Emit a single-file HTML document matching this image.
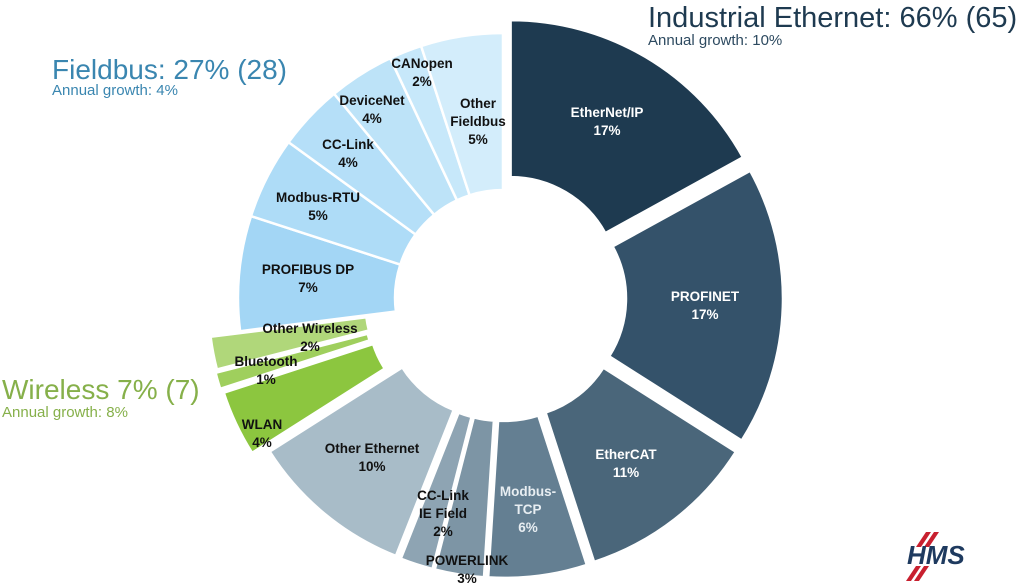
<!DOCTYPE html>
<html><head><meta charset="utf-8"><style>
body{margin:0;width:1024px;height:586px;background:#fff;overflow:hidden;position:relative;font-family:"Liberation Sans",sans-serif}
svg{position:absolute;left:0;top:0}
.l{position:absolute;transform:translate(-50%,-50%);font-weight:bold;font-size:13.5px;line-height:18px;text-align:center;white-space:nowrap;color:#111}
.w{color:#fff}
.t{position:absolute;white-space:nowrap;line-height:1}
</style></head><body>
<svg id="s" width="1024" height="586"></svg>
<div class="t" style="left:648px;top:4px;font-size:29px;color:#1e3a50">Industrial Ethernet: 66% (65)</div>
<div class="t" style="left:648px;top:33px;font-size:15px;color:#2d4a60">Annual growth: 10%</div>
<div class="t" style="left:52px;top:56px;font-size:28px;color:#3a86b0">Fieldbus: 27% (28)</div>
<div class="t" style="left:52px;top:83px;font-size:15px;color:#3a86b0">Annual growth: 4%</div>
<div class="t" style="left:2px;top:376px;font-size:28px;color:#86b04a">Wireless 7% (7)</div>
<div class="t" style="left:2px;top:405px;font-size:15px;color:#86b04a">Annual growth: 8%</div>

<div class="l w" style="left:607px;top:122px">EtherNet/IP<br>17%</div>
<div class="l w" style="left:705px;top:306px">PROFINET<br>17%</div>
<div class="l w" style="left:626px;top:464px">EtherCAT<br>11%</div>
<div class="l w" style="left:528px;top:510px;color:#e8eef2">Modbus-<br>TCP<br>6%</div>
<div class="l" style="left:443px;top:514px">CC-Link<br>IE Field<br>2%</div>
<div class="l" style="left:467px;top:570px">POWERLINK<br>3%</div>
<div class="l" style="left:372px;top:458px">Other Ethernet<br>10%</div>
<div class="l" style="left:262px;top:434px">WLAN<br>4%</div>
<div class="l" style="left:266px;top:371px">Bluetooth<br>1%</div>
<div class="l" style="left:310px;top:338px">Other Wireless<br>2%</div>
<div class="l" style="left:308px;top:279px">PROFIBUS DP<br>7%</div>
<div class="l" style="left:318px;top:207px">Modbus-RTU<br>5%</div>
<div class="l" style="left:348px;top:154px">CC-Link<br>4%</div>
<div class="l" style="left:372px;top:110px">DeviceNet<br>4%</div>
<div class="l" style="left:422px;top:73px">CANopen<br>2%</div>
<div class="l" style="left:478px;top:122px">Other<br>Fieldbus<br>5%</div>

<svg width="1024" height="586" style="pointer-events:none">
<g fill="#c8202f">
<polygon points="926,532 931,532 921,547 916,547"/><polygon points="934,532 939,532 929,547 924,547"/>
<polygon points="916,566 921,566 911,581 906,581"/><polygon points="924,566 929,566 919,581 914,581"/>
</g>
<text x="907" y="564" font-family="Liberation Sans" font-weight="bold" font-style="italic" font-size="26" fill="#1e3a5f">HMS</text>
</svg>
<script>
var cx=503,cy=298,R=265,r=108;
var segs=[
[17,"#1e3a50",15],[17,"#34526a",15],[11,"#4a667a",15],[6,"#647f92",15],[3,"#7d95a5",15],[2,"#8ea4b3",15],[10,"#a8bcc8",15],
[4,"#8cc63f",30],[1,"#9fcf5d",32],[2,"#b0d77a",30],
[7,"#a3d6f5",0],[5,"#aedcf7",0],[4,"#b5dff8",0],[4,"#bde3f8",0],[2,"#c7e8fa",0],[5,"#d3edfb",0]];
var s=document.getElementById('s'),a=0,h='';
function P(ang,rad,ox,oy){var t=ang*Math.PI/180;return (cx+ox+rad*Math.sin(t)).toFixed(1)+","+(cy+oy-rad*Math.cos(t)).toFixed(1);}
segs.forEach(function(g){var a0=a*3.6,a1=(a+g[0])*3.6,m=(a0+a1)/2*Math.PI/180;
var ox=g[2]*Math.sin(m),oy=-g[2]*Math.cos(m);var lg=(a1-a0)>180?1:0;
h+='<path d="M'+P(a0,r,ox,oy)+' L'+P(a0,R,ox,oy)+' A'+R+','+R+' 0 '+lg+' 1 '+P(a1,R,ox,oy)+' L'+P(a1,r,ox,oy)+' A'+r+','+r+' 0 '+lg+' 0 '+P(a0,r,ox,oy)+'Z" fill="'+g[1]+'" stroke="#fff" stroke-width="2.5"/>';
a+=g[0];});
s.innerHTML=h;
</script>
</body></html>
